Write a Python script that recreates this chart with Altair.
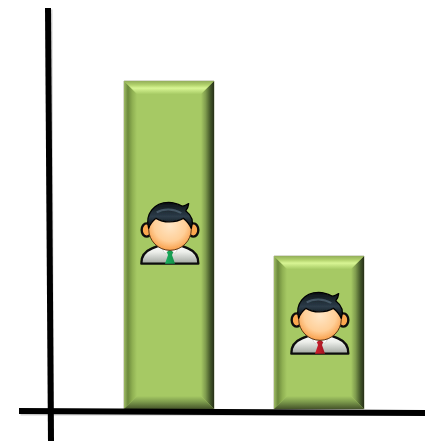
import urllib.parse
import altair as alt
import pandas as pd

# Bar values and positions
bar_names = ["left", "right"]
bar_centers = [169, 319]
bar_values = [328, 153]
icon_x = [170, 320]
icon_y = [176.5, 86.5]
tie_colors = ["#1DB060", "#D0202E"]
tie_dark = ["#109048", "#A01622"]

BAR_W = 90
BEVEL = 13
FACE = "#A6C964"

x_scale = alt.Scale(domain=[0, 425], range=[0, 425], nice=False, zero=False)
y_scale = alt.Scale(domain=[-32, 409], range=[441, 0], nice=False, zero=False)
X = lambda f: alt.X(f, type="quantitative", scale=x_scale, axis=None)
Y = lambda f: alt.Y(f, type="quantitative", scale=y_scale, axis=None)


def gradient(x2, y2, stops):
    return alt.Gradient(
        gradient="linear", x1=0, y1=0, x2=x2, y2=y2,
        stops=[alt.GradientStop(offset=o, color=c) for o, c in stops],
    )


def person_svg(tie, tie_shade):
    return f"""<svg xmlns='http://www.w3.org/2000/svg' width='80' height='75' viewBox='0 0 240 225'>
<defs>
<radialGradient id='skin' cx='50%' cy='42%' r='62%'><stop offset='0' stop-color='#FFE6C6'/><stop offset='.6' stop-color='#FFCF98'/><stop offset='1' stop-color='#F7963C'/></radialGradient>
<linearGradient id='shirt' x1='0' y1='0' x2='0' y2='1'><stop offset='0' stop-color='#FFFFFF'/><stop offset='.4' stop-color='#ECEEEA'/><stop offset='1' stop-color='#A0A6A0'/></linearGradient>
<linearGradient id='hair' x1='0' y1='0' x2='0' y2='1'><stop offset='0' stop-color='#0B1014'/><stop offset='.55' stop-color='#2D3D4A'/><stop offset='1' stop-color='#030506'/></linearGradient>
<linearGradient id='tie' x1='0' y1='0' x2='1' y2='0'><stop offset='0' stop-color='{tie}'/><stop offset='1' stop-color='{tie_shade}'/></linearGradient>
<filter id='soft'><feGaussianBlur stdDeviation='1.2'/></filter>
</defs>
<g filter='url(#soft)'>
<path d='M34 206 C33 184 42 170 66 160 L96 148 L144 148 L174 160 C198 170 206 184 205 206 Z' fill='url(#shirt)' stroke='#0B0B0B' stroke-width='7' stroke-linejoin='round'/>
<path d='M108 166 L132 166 L126 180 L135 206 L105 206 L114 180 Z' fill='url(#tie)'/>
<path d='M90 150 L105 176 L120 162 L135 176 L150 150 Z' fill='#FFFFFF' stroke='#C8C8C4' stroke-width='2'/>
<ellipse cx='50' cy='105' rx='15' ry='20' fill='#FBA850' stroke='#0B0B0B' stroke-width='7'/>
<ellipse cx='190' cy='105' rx='15' ry='20' fill='#FBA850' stroke='#0B0B0B' stroke-width='7'/>
<ellipse cx='120' cy='102' rx='64' ry='64' fill='url(#skin)' stroke='#5A3414' stroke-width='3'/>
<path d='M56 100 C44 58 72 22 116 22 C132 22 146 28 156 33 C162 34 168 31 176 26 C175 36 171 43 167 47 C184 60 192 78 184 100 C178 88 172 78 160 70 C136 84 100 84 78 70 C68 78 60 88 56 100 Z' fill='url(#hair)' stroke='#060606' stroke-width='4' stroke-linejoin='round'/>
<path d='M80 52 C100 40 130 40 154 54' fill='none' stroke='#6A8396' stroke-width='6' opacity='.5'/>
</g>
</svg>"""


icon_urls = [
    "data:image/svg+xml," + urllib.parse.quote(person_svg(t, s))
    for t, s in zip(tie_colors, tie_dark)
]

bars = pd.DataFrame({
    "name": bar_names,
    "x0": [c - BAR_W / 2 for c in bar_centers],
    "x1": [c + BAR_W / 2 for c in bar_centers],
    "top": bar_values,
    "base": [0, 0],
})

# Trapezoid corner rows for the four bevelled edges of each bar
left, right, upper, lower = [], [], [], []
for b in bars.itertuples():
    left += [
        dict(bar=b.name, x=b.x0, y=b.base, y2=b.top),
        dict(bar=b.name, x=b.x0 + BEVEL, y=b.base + BEVEL, y2=b.top - BEVEL),
    ]
    right += [
        dict(bar=b.name, x=b.x1 - BEVEL, y=b.base + BEVEL, y2=b.top - BEVEL),
        dict(bar=b.name, x=b.x1, y=b.base, y2=b.top),
    ]
    upper += [
        dict(bar=b.name, y=b.top, x=b.x0, x2=b.x1),
        dict(bar=b.name, y=b.top - BEVEL, x=b.x0 + BEVEL, x2=b.x1 - BEVEL),
    ]
    lower += [
        dict(bar=b.name, y=b.base + BEVEL, x=b.x0 + BEVEL, x2=b.x1 - BEVEL),
        dict(bar=b.name, y=b.base, x=b.x0, x2=b.x1),
    ]

body = alt.Chart(bars).mark_rect(color=FACE, stroke="#B4B9A0", strokeWidth=1).encode(
    x=X("x0"), x2="x1", y=Y("base"), y2="top"
)

side = lambda rows, grad: alt.Chart(pd.DataFrame(rows)).mark_area(
    orient="vertical", color=grad
).encode(x=X("x"), y=Y("y"), y2="y2", detail="bar:N")

flat = lambda rows, grad: alt.Chart(pd.DataFrame(rows)).mark_area(
    orient="horizontal", color=grad
).encode(y=Y("y"), x=X("x"), x2="x2", detail="bar:N")

left_edge = side(left, gradient(1, 0, [(0, "#9FBB66"), (0.3, "#6C8A3C"), (0.65, "#8FB052"), (1, FACE)]))
right_edge = side(right, gradient(1, 0, [(0, FACE), (0.35, "#7F9C4E"), (0.7, "#465A2B"), (1, "#262F18")]))
top_edge = flat(upper, gradient(0, 1, [(0, "#93AE5A"), (0.3, "#B2D26C"), (0.55, "#D8F594"), (1, "#A8CC66")]))
bottom_edge = flat(lower, gradient(0, 1, [(0, FACE), (0.45, "#7C9A4C"), (1, "#45542A")]))

# Hand-drawn looking axes, very slightly tilted
axis_lines = pd.DataFrame({
    "x": [48, 19],
    "x2": [51, 425],
    "y": [401, -2],
    "y2": [-32, -4],
})
axis_shadow = alt.Chart(axis_lines).mark_rule(color="#D4D4D4", strokeWidth=6).encode(
    x=X("x"), x2="x2", y=Y("y"), y2="y2",
    xOffset=alt.value(1.5), yOffset=alt.value(1.5),
)
axis = alt.Chart(axis_lines).mark_rule(color="#000000", strokeWidth=6).encode(
    x=X("x"), x2="x2", y=Y("y"), y2="y2"
)

people = alt.Chart(pd.DataFrame({"x": icon_x, "y": icon_y, "icon": icon_urls})).mark_image(
    width=80, height=75
).encode(x=X("x"), y=Y("y"), url="icon:N")

chart = alt.layer(
    axis_shadow, body, left_edge, right_edge, top_edge, bottom_edge, axis, people
).properties(
    width=425, height=441, padding=0, autosize=alt.AutoSizeParams(type="none"),
    background="#FFFFFF",
).configure_view(stroke=None)

chart.save("out.html", embed_options={"renderer": "svg", "actions": False})
